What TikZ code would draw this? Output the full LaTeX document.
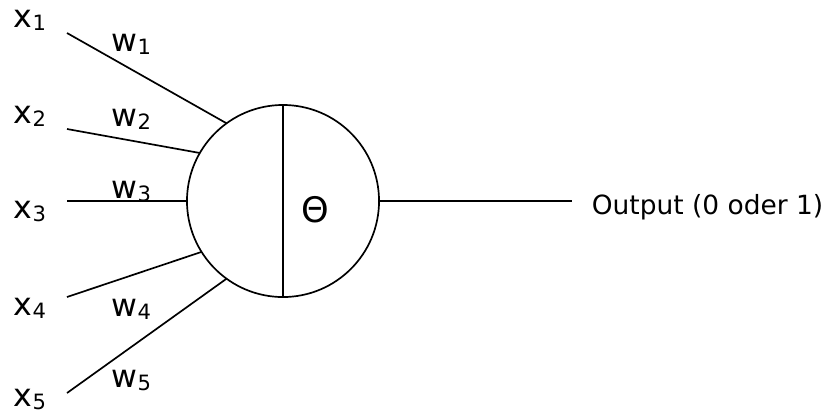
\documentclass[tikz,border=0pt]{standalone}
\usepackage{fontspec}
\setmainfont{DejaVu Sans}
\usepackage{tikz}
\newcommand{\idx}[1]{\raisebox{-2.4pt}{\fontsize{15}{16}\selectfont #1}}
\newcommand{\inlabel}[5]{\node[lbl] (#1) at ( #2 , #3 ) {#4\idx{#5}};}
\tikzset{
  lbl/.style={anchor=base west, inner sep=0pt, font=\fontsize{22.5}{24}\selectfont},
  neuronstyle/.style={draw, circle, inner sep=0pt, outer sep=0pt, minimum size=4.8cm}
}

\begin{document}
\begin{tikzpicture}[x=0.025cm, y=-0.025cm, line width=1.2pt]
        \useasboundingbox (0,0) rectangle (832,416);

        % neuron
        \node[neuronstyle] (neuron) at (283,201) {};
        \draw (neuron.north) -- (neuron.south);
        \node[inner sep=0pt, font=\fontsize{25}{28}\selectfont] (theta) at (315,210) {Θ};

        % inputs
        \inlabel{x1}{13}{27}{x}{1}
        \inlabel{x2}{13}{123}{x}{2}
        \inlabel{x3}{13}{218}{x}{3}
        \inlabel{x4}{13}{315}{x}{4}
        \inlabel{x5}{13}{406}{x}{5}

        \coordinate (s1) at (67,33);
        \coordinate (s2) at (67,129);
        \coordinate (s3) at (67,201);
        \coordinate (s4) at (67,297);
        \coordinate (s5) at (67,393);

        \draw (s1) -- (neuron.126);
        \draw (s2) -- (neuron.150);
        \draw (s3) -- (neuron.west);
        \draw (s4) -- (neuron.212);
        \draw (s5) -- (neuron.234);

        % weights
        \inlabel{w1}{111}{51}{w}{1}
        \inlabel{w2}{111}{126}{w}{2}
        \inlabel{w3}{111}{198}{w}{3}
        \inlabel{w4}{111}{316}{w}{4}
        \inlabel{w5}{111}{387}{w}{5}

        % output
        \coordinate (o) at (572,201);
        \draw (neuron.east) -- (o);
        \node[anchor=base west, inner sep=0pt, font=\fontsize{18.8}{22}\selectfont] (out) at (591,214) {Output (0 oder 1)};

\end{tikzpicture}
\end{document}
